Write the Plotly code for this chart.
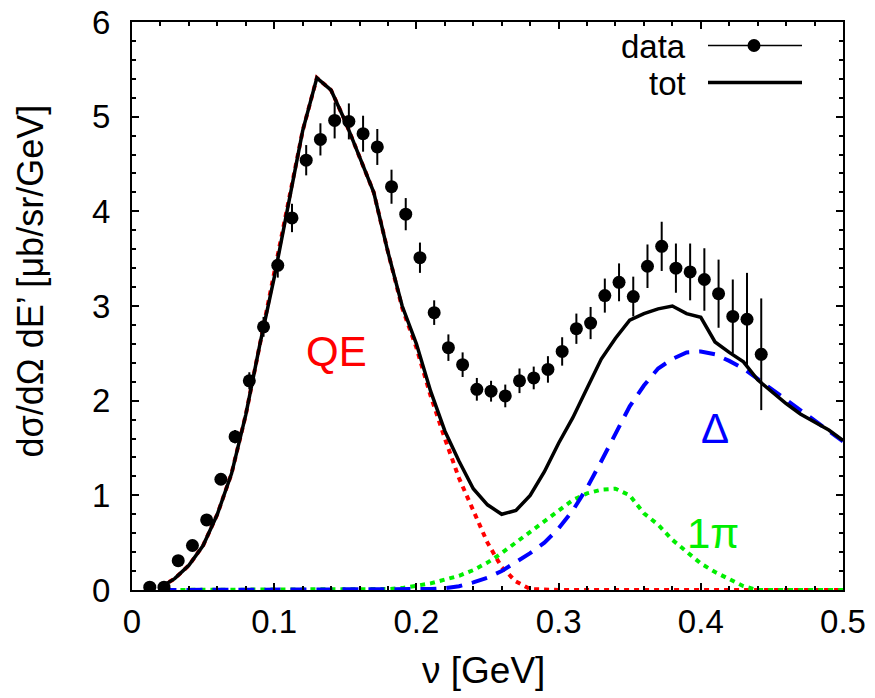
import plotly.graph_objects as go

# ---------------- data ----------------
nu_data = [0.0125, 0.0225, 0.0325, 0.0425, 0.0525, 0.0625, 0.0725, 0.0825, 0.0925, 0.1025,
           0.1125, 0.1225, 0.1325, 0.1425, 0.1525, 0.1625, 0.1725, 0.1825, 0.1925, 0.2025,
           0.2125, 0.2225, 0.2325, 0.2425, 0.2525, 0.2625, 0.2725, 0.2825, 0.2925, 0.3025,
           0.3125, 0.3225, 0.3325, 0.3425, 0.3525, 0.3625, 0.3725, 0.3825, 0.3925, 0.4025,
           0.4125, 0.4225, 0.4325, 0.4425]
xs_data = [0.03, 0.03, 0.31, 0.47, 0.74, 1.17, 1.62, 2.21, 2.78, 3.43,
           3.93, 4.54, 4.76, 4.96, 4.95, 4.82, 4.68, 4.26, 3.97, 3.51,
           2.93, 2.56, 2.38, 2.12, 2.10, 2.05, 2.21, 2.24, 2.33, 2.52,
           2.76, 2.82, 3.11, 3.25, 3.10, 3.42, 3.63, 3.40, 3.36, 3.28,
           3.13, 2.89, 2.86, 2.49]
err_data = [0.01, 0.01, 0.03, 0.04, 0.05, 0.06, 0.07, 0.09, 0.105, 0.13,
            0.15, 0.16, 0.17, 0.19, 0.19, 0.19, 0.19, 0.18, 0.17, 0.16,
            0.13, 0.14, 0.13, 0.12, 0.11, 0.12, 0.13, 0.12, 0.14, 0.15,
            0.16, 0.17, 0.18, 0.20, 0.21, 0.23, 0.26, 0.26, 0.30, 0.33,
            0.36, 0.39, 0.49, 0.59]

nu_curve = [0.02, 0.03, 0.04, 0.05, 0.06, 0.07, 0.08, 0.09, 0.10, 0.11,
            0.12, 0.13, 0.14, 0.15, 0.16, 0.17, 0.18, 0.19, 0.20, 0.21,
            0.22, 0.23, 0.24, 0.25, 0.26, 0.27, 0.28, 0.29, 0.30, 0.31,
            0.32, 0.33, 0.34, 0.35, 0.36, 0.37, 0.38, 0.39, 0.40, 0.41,
            0.42, 0.43, 0.44, 0.45, 0.46, 0.47, 0.48, 0.49, 0.50]
tot = [0.03, 0.12, 0.26, 0.47, 0.80, 1.23, 1.85, 2.60, 3.30, 4.10,
       4.85, 5.41, 5.28, 4.95, 4.58, 4.20, 3.57, 3.00, 2.60, 2.10,
       1.68, 1.36, 1.07, 0.90, 0.80, 0.84, 1.00, 1.25, 1.55, 1.82,
       2.13, 2.44, 2.66, 2.85, 2.92, 2.97, 3.00, 2.92, 2.88, 2.62,
       2.51, 2.41, 2.22, 2.09, 1.97, 1.86, 1.77, 1.69, 1.58]
qe = [0.03, 0.12, 0.26, 0.47, 0.80, 1.23, 1.85, 2.60, 3.30, 4.10,
      4.85, 5.41, 5.28, 4.95, 4.58, 4.20, 3.57, 2.98, 2.56, 2.05,
      1.60, 1.18, 0.84, 0.50, 0.24, 0.09, 0.01, 0.0, 0.0, 0.0,
      0.0, 0.0, 0.0, 0.0, 0.0, 0.0, 0.0, 0.0, 0.0, 0.0,
      0.0, 0.0, 0.0, 0.0, 0.0, 0.0, 0.0, 0.0, 0.0]
delta = [0.0, 0.0, 0.0, 0.0, 0.0, 0.0, 0.0, 0.0, 0.0, 0.0,
         0.0, 0.0, 0.0, 0.0, 0.0, 0.0, 0.0, 0.0, 0.005, 0.01,
         0.02, 0.04, 0.08, 0.13, 0.20, 0.29, 0.39, 0.50, 0.65, 0.84,
         1.08, 1.36, 1.66, 1.94, 2.16, 2.34, 2.44, 2.51, 2.52, 2.49,
         2.42, 2.34, 2.23, 2.12, 2.00, 1.89, 1.78, 1.68, 1.57]
onepi = [0.0, 0.0, 0.0, 0.0, 0.0, 0.0, 0.0, 0.0, 0.0, 0.0,
         0.0, 0.0, 0.0, 0.0, 0.0, 0.005, 0.01, 0.02, 0.04, 0.07,
         0.11, 0.15, 0.21, 0.29, 0.39, 0.50, 0.62, 0.73, 0.84, 0.95,
         1.02, 1.06, 1.07, 1.00, 0.81, 0.69, 0.53, 0.40, 0.28, 0.19,
         0.11, 0.04, 0.0, 0.0, 0.0, 0.0, 0.0, 0.0, 0.0]

x_ticks = [0, 0.1, 0.2, 0.3, 0.4, 0.5]
x_ticklabels = ["0", "0.1", "0.2", "0.3", "0.4", "0.5"]
y_ticks = [0, 1, 2, 3, 4, 5, 6]

FONT = "Liberation Sans, Arial, sans-serif"
PW, PH, L, B = 711, 568, 132, 589.5  # plot-area size and origin in pixels


def px(xp):
    return (xp - L) / PW


def py(yp):
    return (B - yp) / PH


fig = go.Figure()

fig.add_trace(go.Scatter(x=nu_curve, y=qe, mode="lines", name="QE",
                         line=dict(color="#ff0000", width=4, dash="5px,5px")))
fig.add_trace(go.Scatter(x=nu_curve, y=onepi, mode="lines", name="1pi",
                         line=dict(color="#00ee00", width=4, dash="5px,5px")))
fig.add_trace(go.Scatter(x=nu_curve, y=delta, mode="lines", name="Delta",
                         line=dict(color="#0000ff", width=4, dash="16px,10px")))
fig.add_trace(go.Scatter(x=nu_curve, y=tot, mode="lines", name="tot",
                         line=dict(color="black", width=3.5)))
fig.add_trace(go.Scatter(x=nu_data, y=xs_data, mode="markers", name="data",
                         marker=dict(color="black", size=13),
                         error_y=dict(type="data", array=err_data, color="black",
                                      thickness=2, width=0)))

# curve labels
for txt, xx, yy, col in [("QE", 0.1435, 2.52, "#ff0000"),
                         ("Δ", 0.41, 1.71, "#0000ff"),
                         ("1π", 0.4086, 0.60, "#00ee00")]:
    fig.add_annotation(x=xx, y=yy, text=txt, showarrow=False, xanchor="center", yanchor="middle",
                       font=dict(family=FONT, size=42, color=col))

# axis titles
fig.add_annotation(xref="paper", yref="paper", x=px(30), y=py(281),
                   xanchor="center", yanchor="middle",
                   text="dσ/dΩ dE’ [μb/sr/GeV]", showarrow=False, textangle=-90,
                   font=dict(family=FONT, size=36, color="black"))
fig.add_annotation(xref="paper", yref="paper", x=px(483), y=py(670),
                   xanchor="center", yanchor="middle",
                   text="ν [GeV]", showarrow=False,
                   font=dict(family=FONT, size=37, color="black"))

# gnuplot-style key (text on the left, sample on the right)
fig.add_annotation(xref="paper", yref="paper", x=px(688), y=py(46),
                   xanchor="right", yanchor="middle", text="data", showarrow=False,
                   font=dict(family=FONT, size=33, color="black"))
fig.add_annotation(xref="paper", yref="paper", x=px(688), y=py(83),
                   xanchor="right", yanchor="middle", text="tot", showarrow=False,
                   font=dict(family=FONT, size=33, color="black"))
fig.add_shape(type="line", xref="paper", yref="paper", x0=px(708), x1=px(802),
              y0=py(45), y1=py(45), line=dict(color="black", width=1.5))
fig.add_shape(type="circle", xref="paper", yref="paper", xsizemode="pixel", ysizemode="pixel",
              xanchor=px(754), yanchor=py(45), x0=-6.5, x1=6.5, y0=-6.5, y1=6.5,
              fillcolor="black", line=dict(color="black", width=0))
fig.add_shape(type="line", xref="paper", yref="paper", x0=px(708), x1=px(802),
              y0=py(82), y1=py(82), line=dict(color="black", width=3.5))

axis_common = dict(showline=True, linecolor="black", linewidth=2, mirror="allticks",
                   ticks="inside", tickcolor="black", tickwidth=1.5, ticklen=7,
                   showgrid=False, zeroline=False, automargin=False,
                   tickfont=dict(family=FONT, size=33, color="black"))

fig.update_xaxes(range=[0, 0.5], tickvals=x_ticks, ticktext=x_ticklabels,
                 minor=dict(dtick=0.02, ticks="inside", ticklen=4, tickcolor="black", tickwidth=1.5),
                 ticklabelstandoff=1, **axis_common)
fig.update_yaxes(range=[0, 6], tickvals=y_ticks,
                 minor=dict(dtick=0.2, ticks="inside", ticklen=4, tickcolor="black", tickwidth=1.5),
                 ticklabelstandoff=13, **axis_common)

fig.update_layout(width=875, height=698, showlegend=False,
                  margin=dict(l=132, r=32, t=22, b=108, pad=0, autoexpand=False),
                  paper_bgcolor="white", plot_bgcolor="white",
                  font=dict(family=FONT, color="black"))

fig.write_html("out.html")
